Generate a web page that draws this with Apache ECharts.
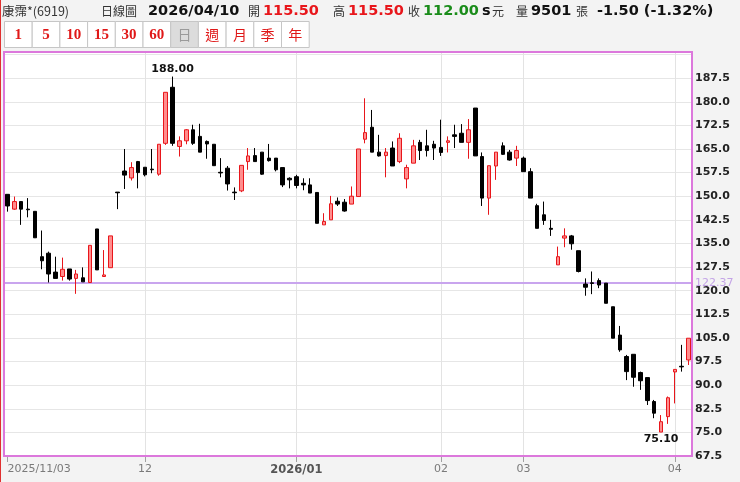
<!DOCTYPE html>
<html><head><meta charset="utf-8">
<script src="https://cdn.jsdelivr.net/npm/echarts@6/dist/echarts.min.js"></script>
<style>html,body{margin:0;padding:0;background:#f3f3f3}#c{width:740px;height:482px}</style>
</head><body><div id="c"></div>
<script>
const dates = [
'2025/11/03','2025/11/04','2025/11/05','2025/11/06','2025/11/07','2025/11/10','2025/11/11','2025/11/12','2025/11/13','2025/11/14',
'2025/11/17','2025/11/18','2025/11/19','2025/11/20','2025/11/21','2025/11/24','2025/11/25','2025/11/26','2025/11/27','2025/11/28',
'2025/12/01','2025/12/02','2025/12/03','2025/12/04','2025/12/05','2025/12/08','2025/12/09','2025/12/10','2025/12/11','2025/12/12',
'2025/12/15','2025/12/16','2025/12/17','2025/12/18','2025/12/19','2025/12/22','2025/12/23','2025/12/24','2025/12/26','2025/12/29',
'2025/12/30','2025/12/31','2026/01/02','2026/01/05','2026/01/06','2026/01/07','2026/01/08','2026/01/09','2026/01/12','2026/01/13',
'2026/01/14','2026/01/15','2026/01/16','2026/01/19','2026/01/20','2026/01/21','2026/01/22','2026/01/23','2026/01/26','2026/01/27',
'2026/01/28','2026/01/29','2026/01/30','2026/02/02','2026/02/03','2026/02/04','2026/02/05','2026/02/06','2026/02/09','2026/02/10',
'2026/02/11','2026/02/23','2026/02/24','2026/02/25','2026/02/26','2026/03/02','2026/03/03','2026/03/04','2026/03/05','2026/03/06',
'2026/03/09','2026/03/10','2026/03/11','2026/03/12','2026/03/13','2026/03/16','2026/03/17','2026/03/18','2026/03/19','2026/03/20',
'2026/03/23','2026/03/24','2026/03/25','2026/03/26','2026/03/27','2026/03/30','2026/03/31','2026/04/01','2026/04/02','2026/04/07'];
const opens = [
150.6,145.9,148.3,145.9,145.2,130.8,131.9,125.9,124.5,126.9,
123.9,124.1,122.6,139.6,124.5,127.3,151.3,158.0,155.8,161.0,
159.2,158.6,157.0,166.8,184.6,165.8,167.6,171.1,169.0,167.4,
166.5,157.6,158.9,151.3,151.7,161.0,162.9,164.0,162.1,162.1,
159.1,155.7,156.2,154.1,153.6,151.2,140.9,142.5,148.4,148.1,
147.5,149.9,168.1,171.9,164.0,162.9,165.3,161.0,155.5,160.5,
167.1,166.0,166.5,165.5,167.1,169.5,170.0,167.1,178.0,162.6,
149.4,159.6,166.0,164.0,162.1,162.1,157.8,147.0,144.1,139.8,
128.2,136.7,137.4,132.7,122.1,122.5,123.2,122.4,114.9,105.9,
99.1,99.8,94.0,92.4,84.8,75.1,80.0,94.2,96.0,98.0];
const closes = [
146.9,148.3,145.9,145.7,136.8,129.5,125.3,123.9,126.8,123.7,
125.3,122.8,134.4,126.6,125.0,137.4,151.1,156.7,159.1,157.5,
156.8,158.4,166.5,183.0,166.8,167.6,171.1,166.8,164.0,166.6,
159.7,157.4,153.9,151.1,159.8,162.8,161.0,157.0,161.3,158.4,
153.6,155.2,153.4,153.6,151.0,141.4,142.0,147.6,147.5,145.3,
150.0,165.0,170.2,164.0,162.8,164.0,159.6,168.4,159.1,166.0,
164.5,164.5,165.3,163.9,167.6,169.0,167.1,171.1,162.8,149.4,
159.7,164.0,163.3,161.5,164.5,157.8,149.4,139.8,142.3,139.5,
130.8,137.4,134.9,126.1,121.1,122.3,121.8,116.0,104.9,101.2,
94.3,92.5,91.4,85.1,81.1,78.4,86.0,95.0,95.8,104.9];
const lows = [
145.1,145.7,140.9,143.3,136.8,126.8,122.6,123.9,123.2,123.2,
119.0,122.8,122.6,126.6,124.5,127.3,145.9,152.3,155.0,152.5,
156.3,157.3,156.5,166.3,166.0,162.6,166.5,166.3,164.0,161.9,
159.7,156.0,151.8,148.8,151.3,158.4,161.0,156.8,161.0,157.9,
152.9,152.5,152.5,151.9,151.0,141.4,140.9,142.5,146.9,145.1,
147.5,149.9,166.8,164.0,162.6,156.0,159.6,160.5,152.5,160.5,
161.5,162.6,161.5,162.8,163.9,165.3,167.1,161.9,162.8,146.9,
144.1,155.2,163.1,161.3,159.6,157.8,149.4,139.8,140.9,137.4,
128.2,133.8,133.0,125.8,118.4,118.9,120.8,116.0,104.9,100.6,
91.6,89.5,88.5,83.7,79.5,75.1,77.7,84.2,94.3,96.4];
const highs = [
150.6,149.9,148.3,149.4,145.2,139.1,132.4,130.8,130.5,126.9,
126.6,127.4,134.4,139.6,132.9,137.4,151.3,165.0,160.8,161.2,
159.2,165.0,166.5,183.0,188.0,169.0,171.3,172.7,173.0,167.7,
166.5,162.1,159.6,152.8,159.8,165.3,165.3,164.0,166.6,162.1,
159.1,156.0,156.8,155.7,155.7,151.2,144.6,150.1,149.6,149.1,
153.1,165.0,181.1,177.4,169.5,165.3,167.4,170.0,160.0,167.9,
167.9,171.1,167.6,174.3,169.0,172.7,172.9,174.5,178.0,163.9,
159.7,164.0,167.1,164.7,166.0,162.6,158.9,147.6,148.3,142.5,
134.0,139.8,137.7,132.7,123.9,126.1,123.9,122.4,114.9,108.8,
99.6,99.8,94.3,92.4,85.3,80.5,86.4,95.0,102.8,104.9];
const refLine = 122.37;
const monthTickIdx = [0, 20, 42, 63, 75, 97];
const monthTickLabels = ['2025/11/03', '12', '2026/01', '02', '03', '04'];
const boldTickLabels = ['2026/01'];
const header = {
  name: '康霈*(6919)', kind: '日線圖', date: '2026/04/10',
  open: '115.50', high: '115.50', close: '112.00', vol: '9501', chg: '-1.50 (-1.32%)'
};
const periodButtons = ['1','5','10','15','30','60','日','週','月','季','年'];
const activeButton = '日';

const ohlc = dates.map((d, i) => [opens[i], closes[i], lows[i], highs[i]]);
let maxI = 0, minI = 0;
highs.forEach((h, i) => { if (h > highs[maxI]) maxI = i; });
lows.forEach((l, i) => { if (l < lows[minI]) minI = i; });

const chart = echarts.init(document.getElementById('c'), null, {renderer: 'canvas'});

const CJK = '"Noto Sans CJK TC", sans-serif';
const LAT = '"DejaVu Sans", Verdana, sans-serif';
function txt(x, text, fill, font) {
  return {type: 'text', x: x, y: 11, style: {text: text, fill: fill, font: font,
    align: 'left', verticalAlign: 'middle', textAlign: 'left', textVerticalAlign: 'middle'}};
}
const BOLD = 'bold 14.5px ' + LAT;
const graphics = [
  {type: 'rect', shape: {x: 0, y: 0, width: 1, height: 482}, style: {fill: '#e03030'}},
  txt(2, header.name, '#333', '12.5px ' + CJK),
  txt(101, header.kind, '#333', '12px ' + CJK),
  txt(148, header.date, '#111', BOLD),
  txt(248, '開', '#333', '12px ' + CJK),
  txt(263, header.open, '#e8161b', BOLD),
  txt(333, '高', '#333', '12px ' + CJK),
  txt(348, header.high, '#e8161b', BOLD),
  txt(408, '收', '#333', '12px ' + CJK),
  txt(423, header.close, '#1a8c1a', BOLD),
  txt(482, 's', '#111', BOLD),
  txt(492, '元', '#333', '12px ' + CJK),
  txt(516, '量', '#333', '12px ' + CJK),
  txt(531, header.vol, '#111', BOLD),
  txt(576, '張', '#333', '12px ' + CJK),
  txt(597, header.chg, '#111', BOLD),
  {type: 'rect', z: 100, shape: {x: 4, y: 52, width: 688, height: 404},
    style: {fill: 'none', stroke: '#dc78dc', lineWidth: 2}}
];
periodButtons.forEach((b, i) => {
  const x = 4 + i * 27.7;
  const active = b === activeButton;
  const isNum = /^\d+$/.test(b);
  graphics.push({type: 'rect', shape: {x: x + 0.5, y: 21.5, width: 27.7, height: 26},
    style: {fill: active ? '#dcdcdc' : '#fff', stroke: '#c6c6c6', lineWidth: 1}});
  graphics.push({type: 'text', x: x + 14.3, y: 35, style: {text: b,
    fill: active ? '#9a9a9a' : '#e01818',
    font: isNum ? 'bold 15px "Liberation Serif", serif' : '14px ' + CJK,
    align: 'center', verticalAlign: 'middle', textAlign: 'center', textVerticalAlign: 'middle'}});
});

const markLines = monthTickIdx.slice(1).map(i => ({
  xAxis: dates[i], lineStyle: {color: '#e3e3e3', width: 1, type: 'solid'}, label: {show: false}
}));
markLines.push({yAxis: refLine, lineStyle: {color: '#c9a5ee', width: 2, type: 'solid'},
  label: {show: true, position: 'end', formatter: refLine.toFixed(2), color: '#c3a3e6',
    fontSize: 11, fontFamily: 'DejaVu Sans', distance: 3}});

chart.setOption({
  animation: false,
  backgroundColor: '#f3f3f3',
  graphic: graphics,
  grid: {left: 4, right: 48, top: 52, bottom: 26, show: true, backgroundColor: '#ffffff',
    borderWidth: 0},
  xAxis: {
    type: 'category', data: dates, boundaryGap: true,
    axisLine: {show: false},
    axisTick: {show: true, alignWithLabel: true, length: 6, lineStyle: {color: '#a0a0a0'},
      interval: (idx) => monthTickIdx.indexOf(idx) >= 0},
    axisLabel: {
      interval: (idx) => monthTickIdx.indexOf(idx) >= 0,
      formatter: (v, idx) => {
        const k = monthTickIdx.indexOf(idx);
        if (k < 0) return '';
        const s = monthTickLabels[k];
        return boldTickLabels.indexOf(s) >= 0 ? '{b|' + s + '}' : s;
      },
      color: '#7a7a7a', fontSize: 11, fontFamily: 'DejaVu Sans', margin: 8,
      alignMinLabel: 'left',
      rich: {b: {fontWeight: 'bold', color: '#555', fontSize: 11.5, fontFamily: 'DejaVu Sans'}}
    },
    splitLine: {show: false}
  },
  yAxis: {
    type: 'value', position: 'right', min: 67.5, max: 195.8, interval: 7.5,
    axisLine: {show: false}, axisTick: {show: false},
    axisLabel: {formatter: v => (v > 190 ? '' : v.toFixed(1)), color: '#222', fontWeight: 'bold', fontSize: 11,
      fontFamily: 'DejaVu Sans', margin: 3},
    splitLine: {show: true, lineStyle: {color: '#e6e6e6', width: 1}}
  },
  series: [{
    type: 'candlestick', data: ohlc, barWidth: 4,
    itemStyle: {color: '#ff8e8e', color0: '#000000', borderColor: '#e8161b', borderColor0: '#000000', borderWidth: 1},
    markLine: {silent: true, symbol: ['none', 'none'], z: 1, animation: false, data: markLines},
    markPoint: {silent: true, symbol: 'rect', symbolSize: 1, itemStyle: {color: 'rgba(0,0,0,0)'},
      animation: false,
      data: [
        {coord: [dates[maxI], highs[maxI]], label: {show: true, position: 'top', distance: 1,
          formatter: highs[maxI].toFixed(2), color: '#111', fontWeight: 'bold', fontSize: 11, fontFamily: 'DejaVu Sans'}},
        {coord: [dates[minI], lows[minI]], label: {show: true, position: 'bottom', distance: 1,
          formatter: lows[minI].toFixed(2), color: '#111', fontWeight: 'bold', fontSize: 11, fontFamily: 'DejaVu Sans'}}
      ]}
  }]
});
</script></body></html>
